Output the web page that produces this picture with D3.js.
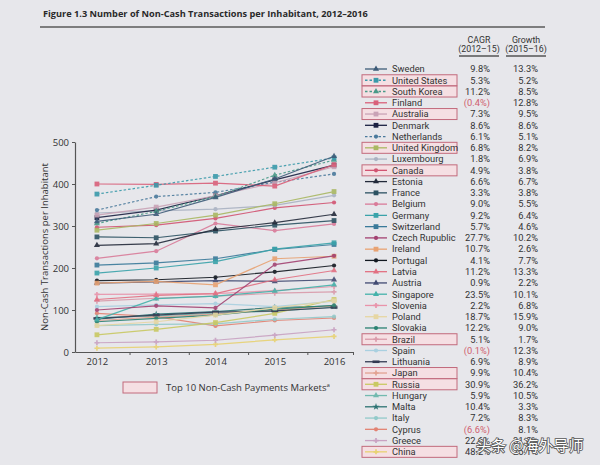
<!DOCTYPE html>
<html><head><meta charset="utf-8">
<script src="https://cdn.jsdelivr.net/npm/d3@7"></script>
<style>
body{margin:0;background:#e7e7eb;}
svg{display:block;font-family:"Open Sans","Noto Sans",sans-serif;}
</style>
</head><body><svg id="c" width="600" height="465"></svg>
<script>
const years=[2012,2013,2014,2015,2016];
const countries=["Sweden","United States","South Korea","Finland","Australia","Denmark","Netherlands","United Kingdom","Luxembourg","Canada","Estonia","France","Belgium","Germany","Switzerland","Czech Rupublic","Ireland","Portugal","Latvia","Austria","Singapore","Slovenia","Poland","Slovakia","Brazil","Spain","Lithuania","Japan","Russia","Hungary","Malta","Italy","Cyprus","Greece","China"];
const v2012=[311,376,306,400,326,320,338,290,331,297,254,274,223,188,207,100,164,170,125,164,77,137,63,72,121,108,80,75,41,82,78,63,92,22,9];
const v2013=[328,397,335,399,345,338,370,306,336,302,258,272,240,200,212,110,168,172,135,167,127,138,72,80,128,112,88,83,54,86,90,66,84,24,12];
const v2014=[368,418,370,402,372,372,380,326,340,318,292,288,306,215,222,105,160,178,139,170,133,139,88,88,133,115,95,90,70,92,96,67,62,28,18];
const v2015=[412,440,421,395,403,410,404,353,349,343,308,302,289,245,244,208,222,191,172,168,145,146,105,102,140,108,98,100,92,97,106,78,75,40,29];
const v2016=[466,462,457,446,441,445,424,382,373,356,328,313,305,260,256,229,228,206,194,172,160,156,122,111,143,121,106,110,125,107,109,84,81,53,37];
const cagr=["9.8%","5.3%","11.2%","(0.4%)","7.3%","8.6%","6.1%","6.8%","1.8%","4.9%","6.6%","3.3%","9.0%","9.2%","5.7%","27.7%","10.7%","4.1%","11.2%","0.9%","23.5%","2.2%","18.7%","12.2%","5.1%","(0.1%)","6.9%","9.9%","30.9%","5.9%","10.4%","7.2%","(6.6%)","22.6%","48.2%"];
const growth=["13.3%","5.2%","8.5%","12.8%","9.5%","8.6%","5.1%","8.2%","6.9%","3.8%","6.7%","3.8%","5.5%","6.4%","4.6%","10.2%","2.6%","7.7%","13.3%","2.2%","10.1%","6.8%","15.9%","9.0%","1.7%","12.3%","8.9%","10.4%","36.2%","10.5%","3.3%","8.3%","8.1%","31.0%","25.1%"];
const top10=["United States","South Korea","Australia","United Kingdom","Canada","Brazil","Japan","Russia","China"];
const yTicks=[0,100,200,300,400,500];

// styles
const colors=["#3d5b78","#3a9aaa","#4a9a88","#d9607a","#c9a3b6","#1b2142","#4a7a9c","#a9b862","#aab2c2","#d25472","#232a3a","#2c5262","#d97b99","#3aa3aa","#3a7a9a","#a34272","#e8a272","#121820","#e27082","#414a72","#44b2aa","#e993aa","#e6d6a2","#2a8272","#d99aaa","#a9d0e0","#323a52","#e2a292","#c9c962","#72baaf","#2b7272","#92caca","#e28272","#c9a2c2","#e8d272"];
const markers=["tri","sq","tri","sq","sq","sq","circ","sq","circ","circ","tri","sq","circ","sq","sq","circ","sq","circ","tri","tri","tri","plus","sq","circ","plus","circ","bar","plus","sq","tri","star","circ","circ","plus","plus"];
const dashed=["United States","South Korea","Netherlands"];

const svg=d3.select("#c");
svg.append("rect").attr("width",600).attr("height",465).attr("fill","#e7e7eb");

// title
svg.append("text").attr("x",43).attr("y",17).attr("font-size",9.2).attr("font-weight","bold").attr("fill","#2a2a2a")
  .text("Figure 1.3 Number of Non-Cash Transactions per Inhabitant, 2012–2016");
svg.append("line").attr("x1",40).attr("x2",545).attr("y1",27).attr("y2",27).attr("stroke","#5a5a5a").attr("stroke-width",1.6);

const x=d3.scaleLinear().domain([2011.63,2016.32]).range([75,353]);
const y=d3.scaleLinear().domain([0,500]).range([352,142]);

// axes
const gy=svg.append("g").attr("transform","translate(75,0)")
  .call(d3.axisLeft(y).tickValues(yTicks).tickSize(3).tickSizeOuter(0));
gy.selectAll("text").attr("font-size",9.5).attr("fill","#333").attr("font-family","Open Sans");
gy.select(".domain").attr("stroke","#555").attr("stroke-width",1.2);
gy.selectAll(".tick line").attr("stroke","#555");

const gx=svg.append("g").attr("transform","translate(0,352)")
  .call(d3.axisBottom(x).tickValues(years).tickSize(0).tickPadding(6).tickFormat(d3.format("d")).tickSizeOuter(0));
gx.selectAll("text").attr("font-size",9.5).attr("fill","#333").attr("font-family","Open Sans");
gx.select(".domain").attr("stroke","#555").attr("stroke-width",1.2);
const gx2=svg.append("g").attr("transform","translate(0,352)")
  .call(d3.axisBottom(x).tickValues([2012.55,2013.55,2014.55,2015.55,2016.32]).tickSize(3).tickFormat("").tickSizeOuter(0));
gx2.select(".domain").remove();
gx2.selectAll(".tick line").attr("stroke","#555");

svg.append("text").attr("transform","translate(48,247) rotate(-90)").attr("text-anchor","middle")
  .attr("font-size",9.5).attr("fill","#333").text("Non-Cash Transactions per Inhabitant");

function drawMarker(g,type,cx,cy,col){
  const s=2.4;
  if(type==="sq") g.append("rect").attr("x",cx-s).attr("y",cy-s).attr("width",2*s).attr("height",2*s).attr("fill",col);
  else if(type==="circ") g.append("circle").attr("cx",cx).attr("cy",cy).attr("r",2.1).attr("fill",col);
  else if(type==="tri") g.append("path").attr("d",d3.symbol(d3.symbolTriangle,16)()).attr("transform",`translate(${cx},${cy})`).attr("fill",col);
  else if(type==="star") g.append("path").attr("d",d3.symbol(d3.symbolStar,16)()).attr("transform",`translate(${cx},${cy})`).attr("fill",col);
  else if(type==="plus") g.append("path").attr("d",d3.symbol(d3.symbolCross,14)()).attr("transform",`translate(${cx},${cy})`).attr("fill",col);
  else if(type==="bar") g.append("rect").attr("x",cx-3.5).attr("y",cy-1.3).attr("width",7).attr("height",2.6).attr("fill",col);
}

const series=countries.map((c,i)=>({name:c,i,vals:[v2012[i],v2013[i],v2014[i],v2015[i],v2016[i]]}));
const line=d3.line().x((d,k)=>x(years[k])).y(d=>y(d));
const plot=svg.append("g");
series.slice().reverse().forEach(s=>{
  const g=plot.append("g").attr("opacity",0.9);
  g.append("path").attr("d",line(s.vals)).attr("fill","none").attr("stroke",colors[s.i]).attr("stroke-width",1.2)
    .attr("stroke-dasharray",dashed.includes(s.name)?"2.5,2":null);
  s.vals.forEach((v,k)=>drawMarker(g,markers[s.i],x(years[k]),y(v),colors[s.i]));
});

// right legend
const lg=svg.append("g").attr("font-family","Roboto");
const rowY=i=>69+i*11.26;
const hdr=[["CAGR",479,43],["(2012–15)",479,52],["Growth",526,43],["(2015–16)",526,52]];
hdr.forEach(h=>lg.append("text").attr("x",h[1]).attr("y",h[2]).attr("text-anchor","middle").attr("font-size",8.8).attr("fill","#333").text(h[0]));
lg.append("line").attr("x1",459).attr("x2",499).attr("y1",56).attr("y2",56).attr("stroke","#555").attr("stroke-width",1.4);
lg.append("line").attr("x1",506).attr("x2",546).attr("y1",56).attr("y2",56).attr("stroke","#555").attr("stroke-width",1.4);

countries.forEach((c,i)=>{
  const cy=rowY(i);
  if(top10.includes(c)){
    lg.append("rect").attr("x",362).attr("y",cy-5.5).attr("width",95).attr("height",11)
      .attr("fill","#f5dfe3").attr("stroke","#c26a7c").attr("stroke-width",1);
  }
  lg.append("line").attr("x1",365).attr("x2",387).attr("y1",cy).attr("y2",cy).attr("stroke",colors[i]).attr("stroke-width",1.3)
    .attr("stroke-dasharray",dashed.includes(c)?"2.5,2":null);
  drawMarker(lg,markers[i],376,cy,colors[i]);
  lg.append("text").attr("x",392).attr("y",cy+3.3).attr("font-size",9.3).attr("fill","#333").text(c);
  lg.append("text").attr("x",490).attr("y",cy+3.3).attr("text-anchor","end").attr("font-size",9.3)
    .attr("fill",cagr[i].startsWith("(")?"#d0606f":"#333").text(cagr[i]);
  lg.append("text").attr("x",538).attr("y",cy+3.3).attr("text-anchor","end").attr("font-size",9.3).attr("fill","#333").text(growth[i]);
});

// bottom legend
svg.append("rect").attr("x",123).attr("y",382).attr("width",34).attr("height",11).attr("fill","#f5dfe3").attr("stroke","#c26a7c").attr("stroke-width",1);
const bt=svg.append("text").attr("x",166).attr("y",391).attr("font-size",9.5).attr("fill","#333");
bt.append("tspan").text("Top 10 Non-Cash Payments Markets");
bt.append("tspan").attr("font-size",6).attr("dy",-4).text("a");

// watermark
svg.append("text").attr("x",476).attr("y",451).attr("font-size",15).attr("font-family","Noto Sans CJK SC")
  .attr("fill","#ffffff").attr("stroke","#555").attr("stroke-width",1.6).attr("paint-order","stroke").text("头条 @海外导师");
</script>
</body></html>
